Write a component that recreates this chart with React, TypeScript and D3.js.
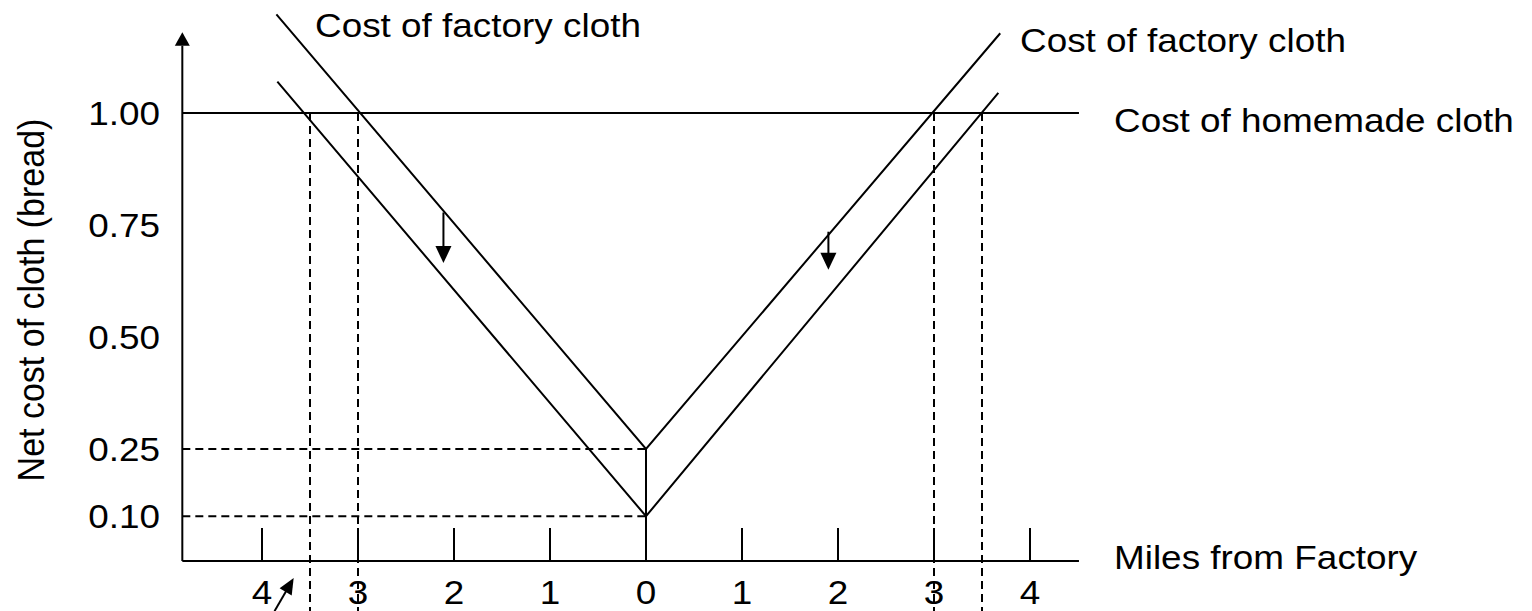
import React from "react";
import * as d3 from "d3";

// ---- data ----
const xTicks = [-4, -3, -2, -1, 0, 1, 2, 3, 4];
const xTickLabels = ["4", "3", "2", "1", "0", "1", "2", "3", "4"];
const yTickValues = [1.0, 0.75, 0.5, 0.25, 0.1];
const yTickLabels = ["1.00", "0.75", "0.50", "0.25", "0.10"];

// cost of factory cloth before (upper V) and after (lower V)
const upperLine: [number, number][] = [[-3.85, 1.22], [0, 0.25], [3.69, 1.178]];
const lowerLine: [number, number][] = [[-3.84, 1.07], [0, 0.1], [3.67, 1.045]];
const homemadeCost = 1.0;
const homemadeRange: [number, number] = [-4.83, 4.51];
const xAxisRange: [number, number] = [-4.83, 4.51];
const yAxisTop = 1.15;
const yAxisArrowTip = 1.18;

// dashed guides
const hDashed = [0.25, 0.1];
const vDashed = [-3.5, -3, 3, 3.5];

// shift arrows: [mile, fromValue, toValue]
const shiftArrows: [number, number, number][] = [
  [-2.11, 0.778, 0.665],
  [1.9, 0.735, 0.65],
];
// pointer arrow near bottom: [fromMile, fromValue, toMile, toValue]
const pointerArrow: [number, number, number, number] = [-3.87, -0.112, -3.67, -0.038];

const W = 1532;
const H = 611;
const FONT = "'Liberation Sans', Arial, sans-serif";
const FS = 34;
const SX = 1.085;

export default function App() {
  const x = d3.scaleLinear().domain([-4, 4]).range([262, 1030]);
  const y = d3.scaleLinear().domain([0, 1]).range([561, 113]);
  const line = d3
    .line<[number, number]>()
    .x((d) => x(d[0]))
    .y((d) => y(d[1]));

  const stroke = "#000";
  const sw = 2;

  const txt = (s: string, px: number, py: number, anchor: "start" | "middle" | "end" = "start", key?: string) => (
    <text
      key={key}
      transform={`translate(${px},${py}) scale(${SX},1)`}
      textAnchor={anchor}
      fontFamily={FONT}
      fontSize={FS}
      fill="#000"
    >
      {s}
    </text>
  );

  const arrowHead = (tx: number, ty: number, ux: number, uy: number, len: number, half: number, key: string) => {
    const bx = tx - ux * len;
    const by = ty - uy * len;
    const nx = -uy;
    const ny = ux;
    return (
      <polygon
        key={key}
        points={`${tx},${ty} ${bx + nx * half},${by + ny * half} ${bx - nx * half},${by - ny * half}`}
        fill="#000"
      />
    );
  };

  const [pfx, pfy, ptx, pty] = pointerArrow;
  const p0 = [x(pfx), y(pfy)];
  const p1 = [x(ptx), y(pty)];
  const pl = Math.hypot(p1[0] - p0[0], p1[1] - p0[1]);
  const pu = [(p1[0] - p0[0]) / pl, (p1[1] - p0[1]) / pl];

  return (
    <svg
      width={W}
      height={H}
      style={{ position: "absolute", left: 0, top: 0, background: "#fff" }}
    >
      <rect width={W} height={H} fill="#fff" />
      {/* dashed guides */}
      {hDashed.map((v, i) => (
        <line key={"hd" + i} x1={x(xAxisRange[0])} x2={x(0)} y1={y(v)} y2={y(v)} stroke={stroke} strokeWidth={sw} strokeDasharray="8,5" />
      ))}
      {vDashed.map((d, i) => (
        <line key={"vd" + i} x1={x(d)} x2={x(d)} y1={y(homemadeCost)} y2={H} stroke={stroke} strokeWidth={sw} strokeDasharray="8,5" />
      ))}

      {/* axes */}
      <line x1={x(xAxisRange[0])} x2={x(xAxisRange[1])} y1={y(0)} y2={y(0)} stroke={stroke} strokeWidth={sw} />
      <line x1={x(xAxisRange[0])} x2={x(xAxisRange[0])} y1={y(0)} y2={y(yAxisTop)} stroke={stroke} strokeWidth={sw} />
      <polygon
        points={`${x(xAxisRange[0])},${y(yAxisArrowTip)} ${x(xAxisRange[0]) - 7.5},${y(yAxisTop)} ${x(xAxisRange[0]) + 7.5},${y(yAxisTop)}`}
        fill="#000"
      />
      {/* x ticks */}
      {xTicks.map((d, i) =>
        d === 0 ? null : (
          <line key={"xt" + i} x1={x(d)} x2={x(d)} y1={y(0)} y2={y(0) - 33} stroke={stroke} strokeWidth={sw} />
        )
      )}
      {xTicks.map((d, i) => txt(xTickLabels[i], x(d), 604, "middle", "xl" + i))}
      {/* y labels */}
      {yTickValues.map((v, i) => txt(yTickLabels[i], 160, y(v) + 12, "end", "yl" + i))}

      {/* homemade cloth line */}
      <line x1={x(homemadeRange[0])} x2={x(homemadeRange[1])} y1={y(homemadeCost)} y2={y(homemadeCost)} stroke={stroke} strokeWidth={sw} />

      {/* factory cloth lines */}
      <path d={line(upperLine) || ""} fill="none" stroke={stroke} strokeWidth={sw} />
      <path d={line(lowerLine) || ""} fill="none" stroke={stroke} strokeWidth={sw} />
      <line x1={x(0)} x2={x(0)} y1={y(0.25)} y2={y(0)} stroke={stroke} strokeWidth={sw} />

      {/* shift arrows */}
      {shiftArrows.map(([d, f, t], i) => (
        <g key={"sa" + i}>
          <line x1={x(d)} x2={x(d)} y1={y(f)} y2={y(t) - 14} stroke={stroke} strokeWidth={sw} />
          {arrowHead(x(d), y(t), 0, 1, 17, 8, "sah" + i)}
        </g>
      ))}

      {/* pointer arrow */}
      <line x1={p0[0]} y1={p0[1]} x2={p1[0] - pu[0] * 12} y2={p1[1] - pu[1] * 12} stroke={stroke} strokeWidth={sw} />
      {arrowHead(p1[0], p1[1], pu[0], pu[1], 16, 7, "pa")}

      {/* labels */}
      {txt("Cost of factory cloth", 315, 37)}
      {txt("Cost of factory cloth", 1020, 52)}
      {txt("Cost of homemade cloth", 1114, 132)}
      {txt("Miles from Factory", 1114, 569)}
      <text
        transform={`translate(44,300) rotate(-90) scale(1,${SX})`}
        textAnchor="middle"
        fontFamily={FONT}
        fontSize={FS}
        fill="#000"
      >
        Net cost of cloth (bread)
      </text>
    </svg>
  );
}
